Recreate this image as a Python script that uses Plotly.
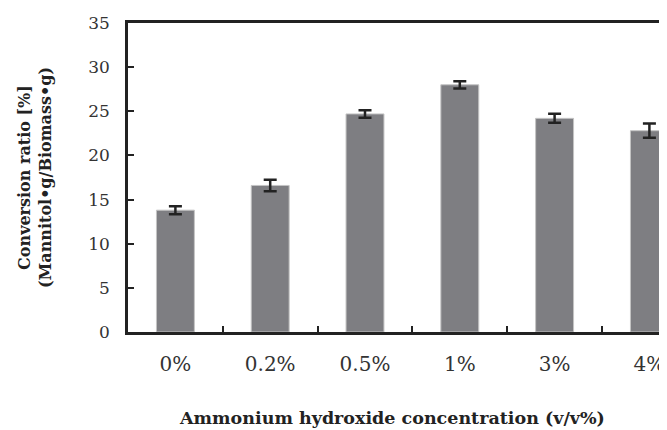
import plotly.graph_objects as go

categories = ["0%", "0.2%", "0.5%", "1%", "3%", "4%"]
conversion = [13.8, 16.6, 24.7, 28.0, 24.2, 22.8]
errors = [0.45, 0.65, 0.43, 0.41, 0.51, 0.81]
y_ticks = [0, 5, 10, 15, 20, 25, 30, 35]

# page body has an 8px default margin; size the figure to the visible area and
# compensate so the plot lands where the reference has it
OFF = 8
W, H = 667 - OFF, 430 - OFF
L, T = 128 - OFF, 23 - OFF
R = 0
B = H - (332 - OFF)
pw = W - L - R
ph = H - T - B

fig = go.Figure()
fig.add_trace(go.Bar(
    x=categories, y=conversion, width=0.4,
    marker=dict(color="#7e7e82", line=dict(color="#c4c4c4", width=1)),
    error_y=dict(type="data", array=errors, visible=True,
                 color="#222222", thickness=2.5, width=6.5),
))

serif = "DejaVu Serif"
fig.update_layout(
    width=W, height=H,
    margin=dict(l=L, r=R, t=T, b=B, autoexpand=False),
    paper_bgcolor="white", plot_bgcolor="white",
    showlegend=False,
    xaxis=dict(
        range=[-0.5, -0.5 + pw / 94.8], automargin=False,
        showline=True, linecolor="#222222", linewidth=2.5, mirror=True,
        ticks="inside", ticklen=6, tickwidth=2, tickcolor="#222222",
        tickson="boundaries", showgrid=False,
        tickfont=dict(family=serif, size=20, color="#333333"),
        ticklabelstandoff=12,
    ),
    yaxis=dict(
        range=[0, 35], tickvals=y_ticks, automargin=False,
        showline=True, linecolor="#222222", linewidth=2.5,
        ticks="inside", ticklen=6, tickwidth=2, tickcolor="#222222",
        showgrid=False, zeroline=False,
        tickfont=dict(family=serif, size=17, color="#333333"),
        ticklabelstandoff=12,
    ),
)

fig.add_annotation(
    text="<b>Conversion ratio [%]</b><br><b>(Mannitol•g/Biomass•g)</b>",
    xref="paper", yref="paper",
    x=(34.5 - OFF - L) / pw, y=0.5, xanchor="center", yanchor="middle",
    textangle=-90, showarrow=False,
    font=dict(family=serif, size=16, color="#222222"),
)
fig.add_annotation(
    text="<b>Ammonium hydroxide concentration (v/v%)</b>",
    xref="paper", yref="paper",
    x=(391.5 - OFF - L) / pw, y=-(418 - 332) / ph,
    xanchor="center", yanchor="middle", showarrow=False,
    font=dict(family=serif, size=17.5, color="#222222"),
)

fig.write_html("out.html")
